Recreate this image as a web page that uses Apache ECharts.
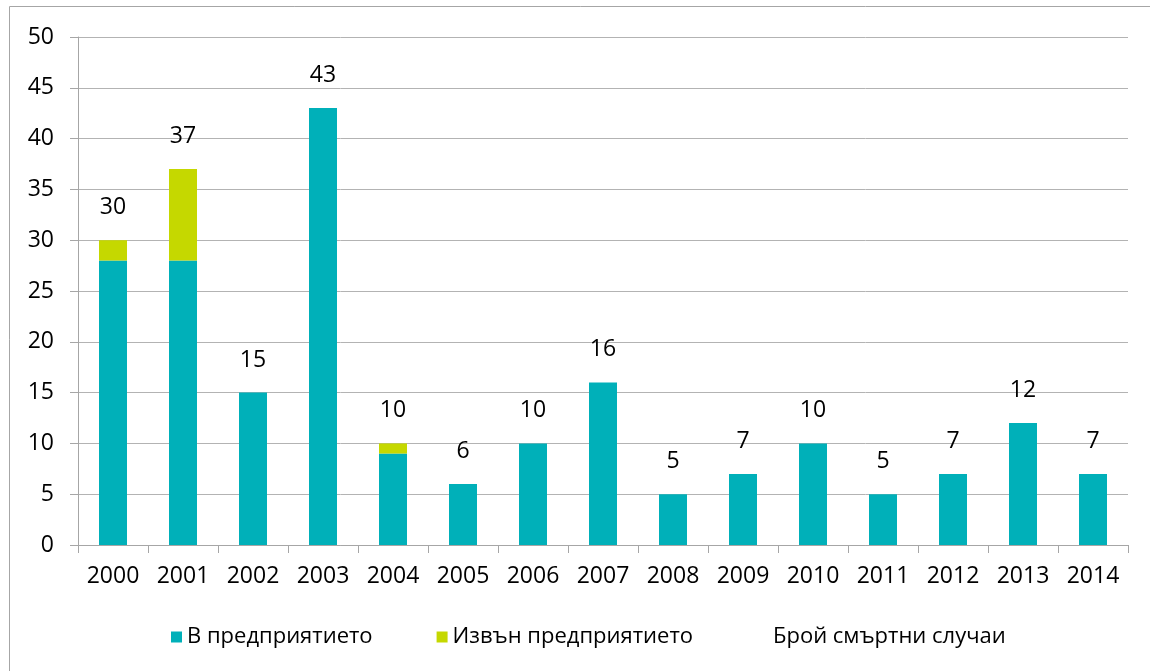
<!DOCTYPE html>
<html>
<head>
<meta charset="utf-8">
<script src="https://cdn.jsdelivr.net/npm/echarts@6/dist/echarts.min.js"></script>
<style>
  html, body { margin: 0; padding: 0; background: #fff; }
  #chart { width: 1150px; height: 671px; }
</style>
</head>
<body>
<div id="chart"></div>
<script>
// data
var years = ['2000', '2001', '2002', '2003', '2004', '2005', '2006', '2007', '2008', '2009', '2010', '2011', '2012', '2013', '2014'];
var inside = [28, 28, 15, 43, 9, 6, 10, 16, 5, 7, 10, 5, 7, 12, 7];
var outside = [2, 9, 0, 0, 1, 0, 0, 0, 0, 0, 0, 0, 0, 0, 0];
var totals = [30, 37, 15, 43, 10, 6, 10, 16, 5, 7, 10, 5, 7, 12, 7];
var names = ['В предприятието', 'Извън предприятието', 'Брой смъртни случаи'];

var font = 'Open Sans';
var chart = echarts.init(document.getElementById('chart'));

var option = {
    animation: false,
    textStyle: { fontFamily: font, color: '#000' },
    graphic: [{
        type: 'rect',
        shape: { x: 9.5, y: 6.5, width: 1150, height: 700 },
        style: { fill: 'none', stroke: '#a6a6a6', lineWidth: 1 }
    }],
    grid: { left: 78, right: 22, top: 37, bottom: 126 },
    legend: {
        left: 166,
        top: 621,
        itemWidth: 11,
        itemHeight: 11,
        itemGap: 64,
        textStyle: { fontFamily: font, fontSize: 22, color: '#000' },
        data: [
            { name: names[0], icon: 'rect' },
            { name: names[1], icon: 'rect' },
            { name: names[2], icon: 'rect', itemStyle: { opacity: 0 } }
        ]
    },
    xAxis: {
        type: 'category',
        data: years,
        axisLine: { lineStyle: { color: '#a6a6a6' } },
        axisTick: { show: true, interval: 0, length: 8, lineStyle: { color: '#a6a6a6' } },
        axisLabel: { fontFamily: font, fontSize: 23, color: '#000', margin: 20, interval: 0 }
    },
    yAxis: {
        type: 'value',
        min: 0,
        max: 50,
        interval: 5,
        axisLine: { show: true, lineStyle: { color: '#a6a6a6' } },
        axisTick: { show: true, length: 8, lineStyle: { color: '#a6a6a6' } },
        axisLabel: { fontFamily: font, fontSize: 23, color: '#000', margin: 24 },
        splitLine: { lineStyle: { color: '#b3b3b3' } }
    },
    series: [{
        name: names[0],
        type: 'bar',
        stack: 'all',
        barWidth: 28,
        itemStyle: { color: '#00b0b9' },
        data: inside
    }, {
        name: names[1],
        type: 'bar',
        stack: 'all',
        barWidth: 28,
        itemStyle: { color: '#c5d800' },
        data: outside
    }, {
        name: names[2],
        type: 'line',
        symbol: 'circle',
        symbolSize: 2,
        lineStyle: { opacity: 0 },
        itemStyle: { color: 'rgba(0,0,0,0)' },
        label: {
            show: true,
            position: 'top',
            distance: 20,
            fontFamily: font,
            fontSize: 23,
            color: '#000'
        },
        data: totals
    }]
};
chart.setOption(option);
</script>
</body>
</html>
